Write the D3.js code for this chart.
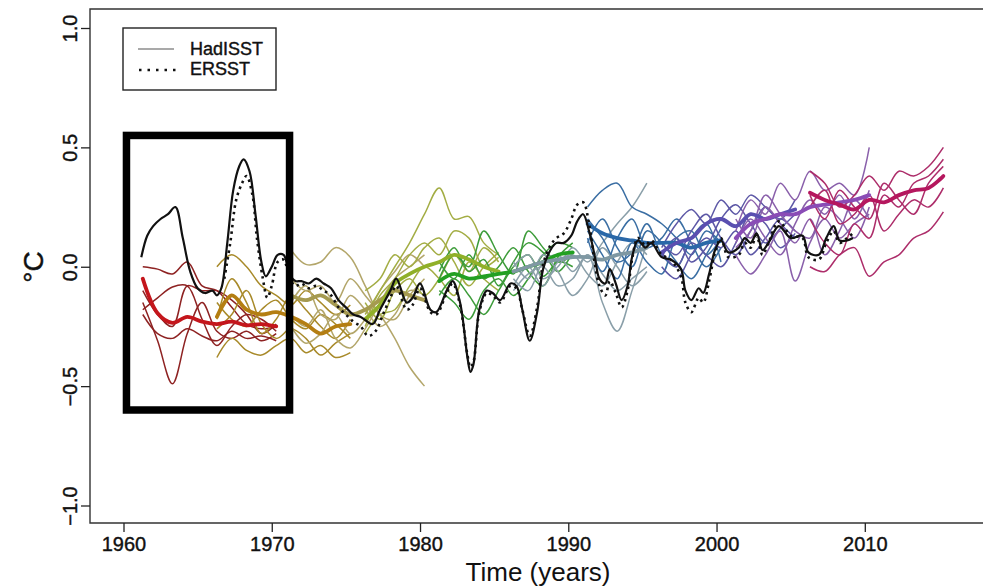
<!DOCTYPE html>
<html>
<head>
<meta charset="utf-8">
<script src="https://cdn.jsdelivr.net/npm/d3@7"></script>
<style>
  html, body { margin: 0; padding: 0; background: #fff; }
  svg { display: block; font-family: "Liberation Sans", Arial, Helvetica, sans-serif; }
</style>
</head>
<body>
<svg id="chart" width="983" height="588"></svg>
<script>
// ---- Observations (°C anomaly) ----
const hadYears = [1961.2,1961.6,1962.0,1962.5,1963.0,1963.5,1964.0,1964.5,1965.0,1965.5,1966.0,1966.3,1966.6,1967.0,1967.4,1967.8,1968.1,1968.5,1968.9,1969.3,1969.6,1970.0,1970.4,1970.8,1971.2,1971.6,1972.0,1972.5,1973.0,1973.5,1974.0,1974.5,1975.0,1975.5,1976.0,1976.8,1977.3,1978.0,1978.4,1979.1,1979.5,1980.0,1980.7,1981.1,1981.8,1982.2,1982.7,1983.2,1983.4,1983.6,1984.0,1984.5,1984.9,1985.4,1986.1,1986.5,1986.9,1987.4,1987.9,1988.3,1988.8,1989.2,1989.7,1990.2,1990.6,1991.0,1991.4,1991.8,1992.1,1992.5,1992.8,1993.2,1993.6,1994.0,1994.3,1994.7,1995.2,1995.6,1996.3,1996.9,1997.6,1997.9,1998.3,1998.8,1999.1,1999.5,1999.9,2000.3,2000.8,2001.5,2001.9,2002.3,2002.7,2003.1,2003.5,2004.2,2005.0,2005.8,2006.2,2006.9,2007.4,2007.9,2008.3,2008.8,2009.2];
const hadisst = [0.04,0.13,0.17,0.20,0.22,0.25,0.12,-0.02,-0.09,-0.11,-0.10,-0.12,-0.09,0.10,0.32,0.42,0.45,0.40,0.22,0.02,-0.04,0.00,0.05,0.05,-0.03,-0.06,-0.06,-0.07,-0.05,-0.07,-0.09,-0.14,-0.17,-0.20,-0.21,-0.24,-0.18,-0.10,-0.05,-0.15,-0.13,-0.07,-0.18,-0.19,-0.10,-0.06,-0.15,-0.38,-0.44,-0.41,-0.18,-0.10,-0.11,-0.14,-0.07,-0.08,-0.18,-0.31,-0.19,-0.01,0.07,0.10,0.10,0.13,0.19,0.22,0.15,0.04,-0.05,-0.07,-0.01,-0.07,-0.14,-0.08,0.04,0.11,0.08,0.10,0.04,0.03,-0.01,-0.10,-0.14,-0.09,-0.11,-0.03,0.07,0.11,0.06,0.08,0.12,0.10,0.14,0.07,0.10,0.17,0.12,0.13,0.06,0.05,0.12,0.17,0.11,0.11,0.12];

const erYears = [1966.8,1967.2,1967.6,1968.0,1968.3,1968.7,1969.0,1969.4,1969.7,1970.0,1970.4,1970.8,1971.2,1971.6,1972.0,1972.5,1973.0,1973.5,1974.0,1974.5,1975.0,1975.5,1976.0,1976.5,1977.0,1977.5,1978.0,1978.4,1979.1,1979.5,1980.0,1980.7,1981.1,1981.8,1982.2,1982.7,1983.2,1983.4,1983.6,1984.0,1984.5,1984.9,1985.4,1986.1,1986.5,1986.9,1987.4,1987.9,1988.3,1988.8,1989.2,1989.7,1990.2,1990.6,1991.0,1991.4,1991.8,1992.1,1992.5,1992.8,1993.2,1993.6,1994.0,1994.3,1994.7,1995.2,1995.6,1996.3,1996.9,1997.6,1997.9,1998.3,1998.8,1999.1,1999.5,1999.9,2000.3,2000.8,2001.5,2001.9,2002.3,2002.7,2003.1,2003.5,2004.2,2005.0,2005.8,2006.2,2006.9,2007.4,2007.9,2008.3,2008.8,2009.2];
const ersst = [-0.05,0.10,0.28,0.35,0.38,0.30,0.12,-0.05,-0.13,-0.08,0.02,0.03,-0.05,-0.08,-0.07,-0.09,-0.08,-0.10,-0.12,-0.17,-0.20,-0.23,-0.25,-0.29,-0.27,-0.20,-0.13,-0.08,-0.18,-0.16,-0.09,-0.19,-0.20,-0.11,-0.07,-0.16,-0.37,-0.42,-0.40,-0.19,-0.11,-0.12,-0.15,-0.08,-0.09,-0.18,-0.29,-0.17,0.01,0.09,0.12,0.14,0.20,0.26,0.27,0.18,0.01,-0.08,-0.12,-0.06,-0.11,-0.17,-0.10,0.03,0.12,0.09,0.11,0.05,0.03,-0.04,-0.15,-0.19,-0.13,-0.15,-0.06,0.06,0.12,0.04,0.05,0.10,0.08,0.13,0.05,0.10,0.19,0.13,0.12,0.04,0.03,0.10,0.15,0.10,0.12,0.14];

// ---- Hindcasts: one value per year from each start date ----
const startYears = [1961.3, 1966.3, 1971.3, 1976.3, 1981.3, 1986.3, 1991.3, 1996.3, 2001.3, 2006.3];
const thinColors  = ["#8e2222", "#a88a2a", "#b3a66a", "#a3ad44", "#3d9c3a", "#8a9fa9", "#3a6ea3", "#5d58a6", "#8a60ab", "#ad2d6a"];
const thickColors = ["#c4161c", "#b47e12", "#a59a50", "#90b028", "#22a022", "#7f98a3", "#2a68a8", "#5a4fb0", "#8a4cb6", "#b5175e"];

const meanA = [-0.05,-0.195,-0.235,-0.21,-0.23,-0.24,-0.23,-0.245,-0.24,-0.25];
const membersA = [
  [0.00,-0.01,-0.03,0.02,-0.08,-0.10,-0.17,-0.24,-0.26,-0.25],
  [-0.15,-0.31,-0.49,-0.28,-0.15,-0.27,-0.30,-0.27,-0.31,-0.28],
  [-0.18,-0.13,-0.085,-0.08,-0.22,-0.33,-0.25,-0.20,-0.22,-0.27],
  [-0.20,-0.28,-0.30,-0.26,-0.29,-0.31,-0.27,-0.30,-0.29,-0.31],
  [-0.10,-0.20,-0.25,-0.08,-0.10,-0.10,-0.14,-0.20,-0.28,-0.24]
];
const meanB = [-0.21,-0.12,-0.18,-0.20,-0.19,-0.21,-0.24,-0.28,-0.25,-0.24];
const membersB = [
  [0.00,0.05,0.00,-0.08,-0.12,-0.16,-0.10,-0.15,-0.20,-0.16],
  [-0.38,-0.30,-0.35,-0.37,-0.33,-0.30,-0.36,-0.33,-0.38,-0.36],
  [-0.22,-0.05,-0.15,-0.28,-0.22,-0.12,-0.18,-0.25,-0.30,-0.22],
  [-0.26,-0.20,-0.10,-0.24,-0.30,-0.26,-0.30,-0.37,-0.32,-0.28],
  [-0.15,-0.22,-0.25,-0.18,-0.14,-0.22,-0.26,-0.20,-0.24,-0.30]
];
const meanC = [-0.12,-0.14,-0.12,-0.16,-0.20,-0.18,-0.14,-0.10,-0.12,-0.14];
const membersC = [
  [0.07,0.01,0.02,0.08,0.04,-0.08,-0.20,-0.22,-0.12,-0.05],
  [-0.05,-0.10,-0.08,-0.15,-0.05,-0.12,-0.20,-0.30,-0.42,-0.50],
  [-0.20,-0.25,-0.18,-0.30,-0.34,-0.26,-0.15,-0.05,0.00,0.05],
  [-0.15,-0.08,-0.20,-0.22,-0.12,-0.18,-0.25,-0.20,-0.10,-0.12],
  [-0.25,-0.32,-0.28,-0.20,-0.28,-0.22,-0.10,-0.02,0.05,0.00]
];
const meanD = [-0.22,-0.16,-0.07,-0.03,0.00,0.02,0.05,0.03,0.00,-0.02];
const membersD = [
  [-0.20,-0.10,0.00,0.10,0.22,0.33,0.20,0.21,0.10,0.05],
  [-0.25,-0.12,-0.05,0.05,0.10,0.05,0.15,0.12,0.00,0.04],
  [-0.15,-0.22,-0.10,-0.05,-0.12,-0.05,0.05,-0.02,0.08,0.02],
  [-0.28,-0.20,-0.18,-0.08,0.00,-0.05,-0.12,0.02,-0.05,-0.10],
  [-0.10,-0.05,0.05,0.00,0.08,0.12,0.02,-0.08,0.00,0.06]
];
const meanE = [-0.06,-0.03,-0.05,-0.04,-0.03,-0.02,0.00,0.02,0.05,0.06];
const membersE = [
  [-0.05,0.05,0.00,0.15,0.05,-0.03,0.15,0.08,0.02,0.05],
  [-0.10,-0.15,-0.22,-0.10,-0.05,-0.12,-0.05,0.05,0.10,0.08],
  [0.02,-0.05,0.05,-0.05,0.00,0.08,-0.02,-0.08,0.04,0.10],
  [-0.12,-0.05,-0.12,-0.20,-0.10,0.00,0.05,-0.04,0.02,0.00],
  [-0.02,0.08,-0.02,0.03,-0.08,0.02,0.10,0.06,-0.02,0.06]
];
const meanF = [-0.02,0.00,0.02,0.03,0.04,0.04,0.03,0.05,0.06,0.08];
const membersF = [
  [-0.05,-0.10,0.02,0.05,-0.02,0.05,-0.15,-0.27,-0.10,0.10],
  [0.00,0.05,-0.05,0.00,0.08,0.02,0.10,0.18,0.25,0.35],
  [-0.10,-0.03,0.00,-0.08,-0.05,0.05,-0.03,-0.10,-0.05,0.00],
  [0.02,-0.05,0.05,-0.02,-0.12,-0.05,0.08,0.00,-0.08,-0.02],
  [-0.08,0.00,-0.08,0.02,0.05,-0.03,-0.08,0.02,0.10,0.05]
];
const meanG = [0.18,0.14,0.12,0.11,0.10,0.10,0.10,0.08,0.10,0.11];
const membersG = [
  [0.25,0.32,0.35,0.25,0.22,0.18,0.12,0.05,0.15,0.10],
  [0.15,0.05,-0.05,0.10,0.02,-0.03,0.12,0.15,0.05,0.12],
  [0.10,0.20,0.08,0.00,0.15,0.10,0.02,-0.05,0.05,0.16],
  [0.12,-0.02,0.12,0.20,0.08,0.12,0.20,0.10,0.00,0.08],
  [0.20,0.12,0.02,0.06,0.18,0.05,0.00,0.12,0.18,0.02]
];
const meanH = [0.06,0.10,0.12,0.18,0.20,0.17,0.22,0.20,0.22,0.24];
const membersH = [
  [0.08,0.18,0.24,0.18,0.28,0.22,0.30,0.25,0.20,0.28],
  [0.00,-0.05,0.05,0.12,0.08,0.15,0.05,0.12,0.20,0.15],
  [0.10,0.05,0.15,0.22,0.12,0.05,0.15,0.25,0.18,0.12],
  [0.04,0.12,0.02,0.08,0.20,0.26,0.18,0.10,0.16,0.22],
  [0.06,0.00,0.10,0.05,0.00,0.10,0.22,0.18,0.08,0.14]
];
const meanI = [0.12,0.18,0.20,0.22,0.22,0.25,0.26,0.27,0.28,0.30];
const membersI = [
  [0.15,0.28,0.22,0.35,0.28,0.40,0.32,0.35,0.30,0.50],
  [0.05,-0.03,0.05,0.15,-0.06,0.10,0.20,0.12,0.18,0.22],
  [0.20,0.12,0.25,0.18,0.10,0.20,0.05,0.15,0.28,0.20],
  [0.10,0.20,0.12,0.05,0.18,0.28,0.22,0.30,0.20,0.32],
  [0.08,0.15,0.30,0.22,0.15,0.12,0.25,0.20,0.12,0.25]
];
const meanJ = [0.31,0.28,0.26,0.24,0.28,0.27,0.30,0.32,0.33,0.38];
const membersJ = [
  [0.40,0.35,0.25,0.30,0.38,0.32,0.40,0.38,0.42,0.50],
  [0.20,0.10,0.05,0.18,0.12,0.30,0.25,0.35,0.38,0.45],
  [0.00,-0.02,0.05,0.08,-0.04,0.02,0.05,0.12,0.15,0.23],
  [0.30,0.20,0.32,0.25,0.20,0.35,0.28,0.22,0.35,0.42],
  [0.25,0.32,0.18,0.22,0.30,0.15,0.22,0.28,0.25,0.33]
];
const means   = [meanA, meanB, meanC, meanD, meanE, meanF, meanG, meanH, meanI, meanJ];
const members = [membersA, membersB, membersC, membersD, membersE, membersF, membersG, membersH, membersI, membersJ];

// ---- Axis ticks and highlighted window ----
const xTicks = [1960, 1970, 1980, 1990, 2000, 2010];
const yTicks = [-1.0, -0.5, 0.0, 0.5, 1.0];
const boxYears = [1960.2, 1971.2];
const boxValues = [-0.6, 0.55];
const legendNames = ["HadISST", "ERSST"];

// ---- Layout ----
const svg = d3.select("#chart");
const frame = { left: 90, right: 986, top: 9, bottom: 523 };
const x = d3.scaleLinear().domain([1960, 2010]).range([123.5, 864.8]);
const y = d3.scaleLinear().domain([-1, 1]).range([505.5, 28]);

const line = d3.line().x(d => x(d[0])).y(d => y(d[1])).curve(d3.curveCatmullRom.alpha(0.5));

const plot = svg.append("g");

// hindcast members (thin), then ensemble means (thick)
members.forEach((grp, gi) => {
  grp.forEach(vals => {
    plot.append("path")
      .attr("d", line(vals.map((v, i) => [startYears[gi] + i, v])))
      .attr("fill", "none")
      .attr("stroke", thinColors[gi])
      .attr("stroke-width", 1.5)
      .attr("stroke-linejoin", "round");
  });
});
means.forEach((vals, gi) => {
  plot.append("path")
    .attr("d", line(vals.map((v, i) => [startYears[gi] + i, v])))
    .attr("fill", "none")
    .attr("stroke", thickColors[gi])
    .attr("stroke-width", 3.8)
    .attr("stroke-linejoin", "round")
    .attr("stroke-linecap", "round");
});

// observations
plot.append("path")
  .attr("d", line(ersst.map((v, i) => [erYears[i], v])))
  .attr("fill", "none").attr("stroke", "#111").attr("stroke-width", 2.6)
  .attr("stroke-dasharray", "2.5,4");
plot.append("path")
  .attr("d", line(hadisst.map((v, i) => [hadYears[i], v])))
  .attr("fill", "none").attr("stroke", "#111").attr("stroke-width", 2.2)
  .attr("stroke-linejoin", "round");

// highlighted window
svg.append("rect")
  .attr("x", x(boxYears[0])).attr("y", y(boxValues[1]))
  .attr("width", x(boxYears[1]) - x(boxYears[0]))
  .attr("height", y(boxValues[0]) - y(boxValues[1]))
  .attr("fill", "none").attr("stroke", "#000").attr("stroke-width", 7.5);

// frame
svg.append("path")
  .attr("d", `M${frame.right},${frame.top}H${frame.left}V${frame.bottom}H${frame.right}`)
  .attr("fill", "none").attr("stroke", "#333").attr("stroke-width", 1.4);

// x axis
const xAxis = svg.append("g").attr("transform", `translate(0,${frame.bottom})`)
  .call(d3.axisBottom(x).tickValues(xTicks).tickFormat(d3.format("d")).tickSize(9).tickSizeOuter(0));
xAxis.select(".domain").remove();
xAxis.selectAll(".tick line").attr("stroke", "#222").attr("stroke-width", 1.3);
xAxis.selectAll(".tick text").attr("font-size", 20).attr("fill", "#111")
  .attr("stroke", "#111").attr("stroke-width", 0.4)
  .attr("font-family", "'Liberation Sans', Arial, sans-serif").attr("dy", 0).attr("y", 28);

// y axis
const yAxis = svg.append("g").attr("transform", `translate(${frame.left},0)`)
  .call(d3.axisLeft(y).tickValues(yTicks).tickFormat(d => d3.format(".1f")(d)).tickSize(9).tickSizeOuter(0));
yAxis.select(".domain").remove();
yAxis.selectAll(".tick line").attr("stroke", "#222").attr("stroke-width", 1.3);
yAxis.selectAll(".tick text")
  .attr("font-size", 20).attr("fill", "#111")
  .attr("stroke", "#111").attr("stroke-width", 0.4)
  .attr("font-family", "'Liberation Sans', Arial, sans-serif")
  .attr("x", null).attr("dy", null)
  .attr("text-anchor", "middle")
  .attr("transform", "translate(-13,0) rotate(-90)");

// axis titles
svg.append("text").attr("x", 538).attr("y", 581).attr("text-anchor", "middle")
  .attr("font-size", 26).attr("fill", "#111").text("Time (years)");
svg.append("text").attr("transform", `translate(43,267) rotate(-90)`).attr("text-anchor", "middle")
  .attr("font-size", 28).attr("fill", "#111").attr("stroke", "#111").attr("stroke-width", 0.4).text("°C");

// legend
const lg = svg.append("g");
lg.append("rect").attr("x", 123).attr("y", 28).attr("width", 153).attr("height", 62)
  .attr("fill", "#fff").attr("stroke", "#222").attr("stroke-width", 1.4);
lg.append("line").attr("x1", 138).attr("x2", 174).attr("y1", 49).attr("y2", 49)
  .attr("stroke", "#555").attr("stroke-width", 1.2);
lg.append("line").attr("x1", 139).attr("x2", 176).attr("y1", 70).attr("y2", 70)
  .attr("stroke", "#111").attr("stroke-width", 2.6).attr("stroke-dasharray", "2.5,6");
lg.selectAll("text.lab").data(legendNames).enter().append("text")
  .attr("x", 190).attr("y", (d, i) => 55 + i * 20)
  .attr("font-size", 18).attr("fill", "#111")
  .attr("stroke", "#111").attr("stroke-width", 0.4).text(d => d);
</script>
</body>
</html>
